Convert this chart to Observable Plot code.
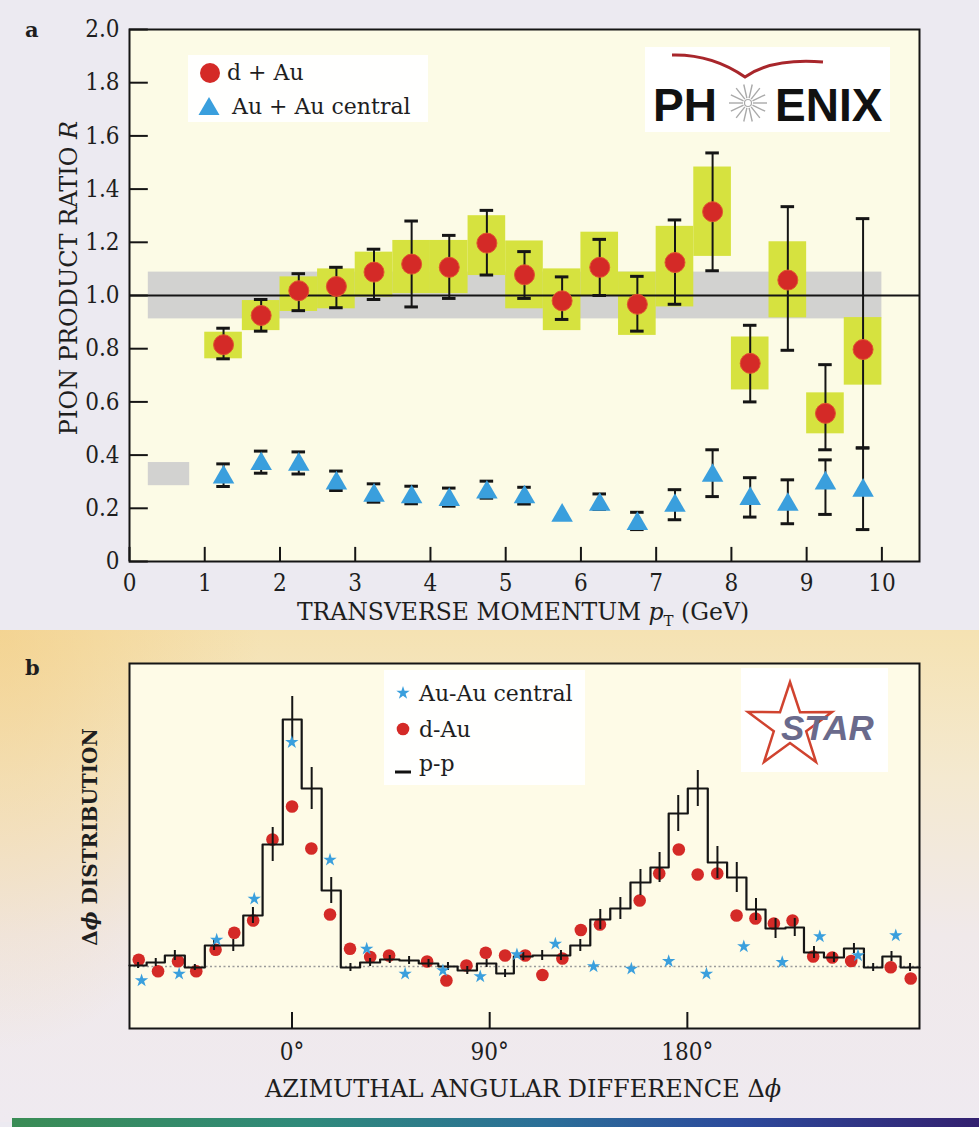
<!DOCTYPE html>
<html><head><meta charset="utf-8">
<script src="https://cdn.jsdelivr.net/npm/d3@7"></script>
<script src="https://cdn.jsdelivr.net/npm/@observablehq/plot@0.6"></script>
<style>
html,body{margin:0;padding:0;background:#eceaf1;}
#page{position:relative;width:979px;height:1127px;overflow:hidden;background:#eceaf1;font-family:"DejaVu Serif",serif;}
.abs{position:absolute;left:0;}
</style></head><body>
<div id="page">
  <div style="position:absolute;left:0;top:630px;width:979px;height:492px;background:radial-gradient(ellipse 260px 420px at 0% 0%, rgba(242,200,120,0.55) 0%, rgba(242,200,120,0) 100%), linear-gradient(180deg,#f5e2b2 0%,#f4e9d0 30%,#f0e9ea 62%,#efeaf0 100%);"></div>
  <div id="plotA" class="abs" style="top:0"></div>
  <div id="plotB" class="abs" style="top:640px"></div>
  <svg id="overlay" class="abs" style="top:0" width="979" height="1127" font-family="'DejaVu Serif', serif" fill="#1e1e1e">
    <text x="25" y="37" font-weight="bold" font-size="21">a</text>
    <text x="25" y="675" font-weight="bold" font-size="21">b</text>
    <text transform="translate(77,278) rotate(-90)" text-anchor="middle" font-size="24">PION PRODUCT RATIO <tspan font-style="italic">R</tspan></text>
    <text x="523" y="620" text-anchor="middle" font-size="23.5">TRANSVERSE MOMENTUM <tspan font-style="italic">p</tspan><tspan font-size="15" dy="6">T</tspan><tspan dy="-6"> (GeV)</tspan></text>
    <text transform="translate(97,837) rotate(-90)" text-anchor="middle" font-size="20" font-weight="bold">Δ<tspan font-style="italic">ϕ</tspan> DISTRIBUTION</text>
    <text x="523" y="1097" text-anchor="middle" font-size="24">AZIMUTHAL ANGULAR DIFFERENCE Δ<tspan font-style="italic">ϕ</tspan></text>

    <!-- legend a -->
    <rect x="188" y="55" width="240" height="67" fill="#ffffff" fill-opacity="0.95"/>
    <circle cx="210" cy="73" r="10" fill="#d42a27"/>
    <text x="227" y="80" font-size="22">d + Au</text>
    <path d="M209,97 L219.5,115 L198.5,115 Z" fill="#3a9fdd"/>
    <text x="232" y="114" font-size="22">Au + Au central</text>

    <!-- PHENIX logo -->
    <rect x="645" y="47" width="245" height="85" fill="#ffffff"/>
    <path d="M672,55 Q712,54 745,77 Q772,58 823,62" fill="none" stroke="#a8262b" stroke-width="3"/>
    <g id="burst"></g>
    <text x="653" y="121" font-family="'Liberation Sans', Arial, sans-serif" font-weight="bold" font-size="46" fill="#111">PH</text>
    <text x="775" y="121" font-family="'Liberation Sans', Arial, sans-serif" font-weight="bold" font-size="46" fill="#111">ENIX</text>

    <!-- legend b -->
    <rect x="384" y="670" width="201" height="115" fill="#ffffff" fill-opacity="0.95"/>
    <g id="legStar"></g>
    <text x="419" y="701" font-size="22">Au-Au central</text>
    <circle cx="403" cy="729" r="6.3" fill="#d42a27"/>
    <text x="419" y="737" font-size="22">d-Au</text>
    <line x1="395" y1="772" x2="411" y2="772" stroke="#111" stroke-width="3"/>
    <text x="419" y="771" font-size="22">p-p</text>

    <!-- STAR logo -->
    <rect x="741" y="668" width="147" height="104" fill="#ffffff"/>
    <polygon points="790,682 800,712.2 832,712 806.2,731.3 816,762 790,743 764,762 773.8,731.3 748,712 780,712.2" fill="none" stroke="#d0432f" stroke-width="2.5" stroke-linejoin="miter"/>
    <text x="781" y="740" font-family="'Liberation Sans', Arial, sans-serif" font-weight="bold" font-style="italic" font-size="35" fill="#6a6a8c">STAR</text>
  </svg>
  <div style="position:absolute;left:12px;top:1118px;width:967px;height:9px;background:linear-gradient(90deg,#3a8c55 0%,#2f8a7a 30%,#2b6f98 55%,#2c4a9c 75%,#33206f 100%);"></div>
</div>
<script>
// ---------- Panel a data ----------
const pT        = [1.25, 1.75, 2.25, 2.75, 3.25, 3.75, 4.25, 4.75, 5.25, 5.75, 6.25, 6.75, 7.25, 7.75, 8.25, 8.75, 9.25, 9.75];
const dAuR      = [0.815, 0.925, 1.018, 1.034, 1.088, 1.118, 1.106, 1.197, 1.078, 0.980, 1.106, 0.967, 1.124, 1.315, 0.745, 1.058, 0.557, 0.797];
const dAuLo     = [0.762, 0.866, 0.943, 0.954, 0.985, 0.957, 0.989, 1.077, 0.989, 0.910, 1.000, 0.866, 0.967, 1.093, 0.600, 0.794, 0.420, 0.427];
const dAuHi     = [0.877, 0.985, 1.082, 1.106, 1.174, 1.280, 1.226, 1.320, 1.165, 1.070, 1.211, 1.072, 1.284, 1.536, 0.888, 1.334, 0.740, 1.289];
const dAuSysLo  = [0.762, 0.868, 0.940, 0.950, 0.994, 1.007, 1.007, 1.075, 0.950, 0.868, 0.998, 0.850, 0.957, 1.147, 0.645, 0.916, 0.480, 0.663];
const dAuSysHi  = [0.862, 0.981, 1.070, 1.100, 1.163, 1.207, 1.207, 1.300, 1.205, 1.100, 1.238, 1.088, 1.260, 1.483, 0.844, 1.202, 0.634, 0.917];
const auauR     = [0.317, 0.367, 0.365, 0.294, 0.248, 0.242, 0.232, 0.260, 0.242, 0.173, 0.214, 0.142, 0.210, 0.323, 0.236, 0.214, 0.294, 0.267];
const auauLo    = [0.282, 0.332, 0.329, 0.267, 0.223, 0.217, 0.208, 0.238, 0.216, null, 0.196, 0.120, 0.157, 0.244, 0.167, 0.142, 0.177, 0.120];
const auauHi    = [0.367, 0.415, 0.412, 0.340, 0.292, 0.283, 0.276, 0.302, 0.279, null, 0.254, 0.185, 0.270, 0.420, 0.315, 0.307, 0.382, 0.427];
const normBandX = [0.25, 10.0];
const normBandY = [0.912, 1.088];
const auNormX   = [0.25, 0.80];
const auNormY   = [0.285, 0.372];
const xTicksA   = [0, 1, 2, 3, 4, 5, 6, 7, 8, 9, 10];
const yTicksA   = [0, 0.2, 0.4, 0.6, 0.8, 1.0, 1.2, 1.4, 1.6, 1.8, 2.0];

// ---------- Panel b data ----------
const ppEdge = [-74, -66.2, -57.9, -48.8, -39.7, -31.3, -22.2, -13.4, -4.2, 4.4, 13.5, 22.2, 31.0, 40.1, 48.9, 57.7, 66.6, 75.4, 84.2, 93.0,
                101.0, 109.6, 118.2, 126.7, 135.8, 144.9, 154.1, 163.2, 171.5, 180.2, 189.3, 198.1, 206.9, 215.6, 224.7, 233.1, 242.2, 251.3, 260.4, 268.8, 277.1];
const ppEnd  = 285.7;
const ppVal  = [6.3, 6.6, 7.3, 6.1, 8.3, 8.3, 11.3, 18.4, 30.9, 24.0, 13.8, 6.1, 6.6, 6.9, 6.8, 6.5, 6.2, 5.8, 6.5, 5.5,
                7.2, 7.3, 7.3, 8.3, 10.9, 12.0, 14.6, 16.1, 21.5, 24.0, 16.6, 15.1, 11.9, 10.0, 10.1, 7.6, 7.1, 8.0, 6.1, 7.2, 6.1];
const ppErr  = [0.3, 0.4, 0.5, 0.3, 0.5, 0.6, 0.8, 1.7, 2.3, 2.1, 1.3, 0.4, 0.4, 0.4, 0.4, 0.4, 0.4, 0.4, 0.4, 0.4,
                0.4, 0.5, 0.5, 0.6, 1.0, 1.1, 1.3, 1.5, 1.8, 1.8, 1.6, 1.5, 1.1, 1.0, 0.9, 0.6, 0.5, 0.5, 0.4, 0.5, 0.4];
const dAuPhi = [-69.8, -61.0, -51.9, -43.6, -34.8, -26.3, -17.7, -8.9, 0.0, 8.8, 17.3, 26.4, 35.6, 44.2, 61.5, 70.3, 79.4, 88.2, 97.0,
                106.2, 114.0, 123.1, 131.5, 140.2, 158.3, 167.2, 176.1, 184.7, 193.6, 202.4, 211.0, 219.4, 227.9, 237.3, 246.0, 254.6, 272.6, 281.7];
const dAuVal = [6.87, 5.73, 6.73, 5.73, 7.87, 9.57, 10.8, 18.9, 22.2, 18.0, 11.4, 7.97, 7.15, 7.3, 6.7, 4.8, 6.3, 7.57, 7.3,
                7.3, 5.35, 7.0, 9.85, 10.4, 12.8, 15.5, 17.9, 15.4, 15.5, 11.3, 11.0, 10.5, 10.8, 7.2, 7.1, 6.75, 6.13, 5.0];
const auauPhi = [-68.5, -51.4, -34.3, -17.2, -0.1, 17.3, 34.0, 51.5, 68.7, 85.7, 102.4, 119.9, 137.3, 154.5, 171.5, 188.7, 205.7, 223.2, 240.3, 257.7, 274.9];
const auauVal = [4.8, 5.47, 8.87, 12.97, 28.63, 16.87, 7.97, 5.47, 5.8, 5.2, 7.4, 8.47, 6.2, 5.97, 6.73, 5.47, 8.2, 6.63, 9.2, 7.3, 9.3];
const baseLevel = [6.2];
const xTicksB = [0, 90, 180];

// ---------- styles ----------
const RED = "#d42a27", BLUE = "#3a9fdd", BLACK = "#151515", LIME = "#d6e23f", GRAY = "#d2d2d0";
const font = {fontFamily: "'DejaVu Serif Condensed', 'DejaVu Serif', serif", fontSize: "24px", color: "#1e1e1e", background: "transparent", overflow: "visible"};

// ---------- Panel a ----------
const half = 0.25, cap = 0.09;
const A = pT.map((x, i) => ({x, r: dAuR[i], lo: dAuLo[i], hi: dAuHi[i], sLo: dAuSysLo[i], sHi: dAuSysHi[i]}));
const B = pT.map((x, i) => ({x, r: auauR[i], lo: auauLo[i], hi: auauHi[i]}));
const Bbars = B.filter(d => d.lo != null);
const bands = [
  {x1: normBandX[0], x2: normBandX[1], y1: normBandY[0], y2: normBandY[1]},
  {x1: auNormX[0], x2: auNormX[1], y1: auNormY[0], y2: auNormY[1]}
];

const plotA = Plot.plot({
  width: 979, height: 640,
  marginLeft: 129, marginRight: 60, marginTop: 29, marginBottom: 79,
  x: {domain: [0, 10.5], label: null},
  y: {domain: [0, 2.0], label: null},
  style: font,
  marks: [
    Plot.frame({fill: "#fcfbe6", stroke: null}),
    Plot.rect(bands, {x1: "x1", x2: "x2", y1: "y1", y2: "y2", fill: GRAY}),
    Plot.rect(A, {x1: d => d.x - half, x2: d => d.x + half, y1: "sLo", y2: "sHi", fill: LIME}),
    Plot.ruleY([1], {stroke: BLACK, strokeWidth: 2}),
    Plot.ruleX(Bbars, {x: "x", y1: "lo", y2: "hi", stroke: BLACK, strokeWidth: 2}),
    Plot.ruleY(Bbars, {y: "hi", x1: d => d.x - cap, x2: d => d.x + cap, stroke: BLACK, strokeWidth: 3}),
    Plot.ruleY(Bbars, {y: "lo", x1: d => d.x - cap, x2: d => d.x + cap, stroke: BLACK, strokeWidth: 3}),
    Plot.dot(B, {x: "x", y: "r", symbol: "triangle", r: 8, fill: BLUE, stroke: null}),
    Plot.ruleX(A, {x: "x", y1: "lo", y2: "hi", stroke: BLACK, strokeWidth: 2}),
    Plot.ruleY(A, {y: "hi", x1: d => d.x - cap, x2: d => d.x + cap, stroke: BLACK, strokeWidth: 3}),
    Plot.ruleY(A, {y: "lo", x1: d => d.x - cap, x2: d => d.x + cap, stroke: BLACK, strokeWidth: 3}),
    Plot.dot(A, {x: "x", y: "r", r: 10, fill: RED, stroke: "#e0552e", strokeWidth: 1}),
    Plot.ruleX(xTicksA, {x: d => d, y1: 0, y2: 0.053, stroke: BLACK, strokeWidth: 2}),
    Plot.ruleY(yTicksA, {y: d => d, x1: 0, x2: 0.25, stroke: BLACK, strokeWidth: 2}),
    Plot.frame({stroke: BLACK, strokeWidth: 2}),
    Plot.axisX(xTicksA, {tickSize: 0, tickPadding: 12, label: null}),
    Plot.axisY(yTicksA, {tickSize: 0, tickPadding: 10, label: null, tickFormat: d => d === 0 ? "0" : d.toFixed(1)})
  ]
});
document.getElementById("plotA").appendChild(plotA);

// ---------- Panel b ----------
const ppLine = ppEdge.map((x, i) => ({x, y: ppVal[i]})).concat([{x: ppEnd, y: ppVal[ppVal.length - 1]}]);
const ppBins = ppEdge.map((x, i) => ({c: (x + (i + 1 < ppEdge.length ? ppEdge[i + 1] : ppEnd)) / 2, v: ppVal[i], e: ppErr[i]}));
const dAuB = dAuPhi.map((x, i) => ({x, y: dAuVal[i]}));
const auB = auauPhi.map((x, i) => ({x, y: auauVal[i]}));

const plotB = Plot.plot({
  width: 979, height: 487,
  marginLeft: 129, marginRight: 60, marginTop: 23, marginBottom: 99,
  x: {domain: [-74, 285.7], label: null},
  y: {domain: [0, 36.5], axis: null},
  style: font,
  marks: [
    Plot.frame({fill: "#fefbe7", stroke: null}),
    Plot.ruleY(baseLevel, {stroke: "#9a9a9a", strokeWidth: 1.6, strokeDasharray: "2,2.5"}),
    Plot.dot(dAuB, {x: "x", y: "y", r: 6.3, fill: RED, stroke: null}),
    Plot.line(ppLine, {x: "x", y: "y", curve: "step-after", stroke: BLACK, strokeWidth: 2.2}),
    Plot.ruleX(ppBins, {x: "c", y1: d => d.v - d.e, y2: d => d.v + d.e, stroke: BLACK, strokeWidth: 2}),
    Plot.dot(auB, {x: "x", y: "y", symbol: "star", r: 4.2, fill: BLUE, stroke: null}),
    Plot.ruleX(xTicksB, {x: d => d, y1: 0, y2: 1.6, stroke: BLACK, strokeWidth: 2}),
    Plot.frame({stroke: BLACK, strokeWidth: 2}),
    Plot.axisX(xTicksB, {tickSize: 0, tickPadding: 14, label: null, tickFormat: d => d + "°"})
  ]
});
document.getElementById("plotB").appendChild(plotB);

// ---------- logo decorations ----------
const burst = d3.select("#burst");
for (let k = 0; k < 14; k++) {
  const a = (k / 14) * 2 * Math.PI;
  burst.append("line")
    .attr("x1", 748 + 5 * Math.cos(a)).attr("y1", 103 + 5 * Math.sin(a))
    .attr("x2", 748 + 19 * Math.cos(a)).attr("y2", 103 + 19 * Math.sin(a))
    .attr("stroke", "#a9a9a9").attr("stroke-width", 1.4);
}
burst.append("circle").attr("cx", 748).attr("cy", 103).attr("r", 3.5).attr("fill", "none").attr("stroke", "#a9a9a9").attr("stroke-width", 1.2);
d3.select("#legStar").append("path")
  .attr("d", d3.symbol(d3.symbolStar, Math.PI * 17.6)())
  .attr("transform", "translate(403,693)").attr("fill", BLUE);
</script>
</body></html>
